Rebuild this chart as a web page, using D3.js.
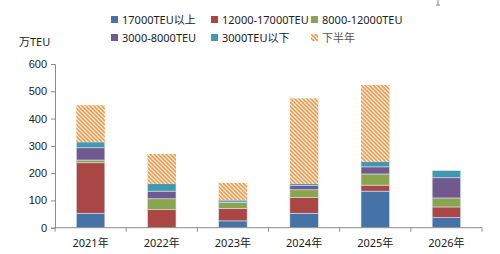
<!DOCTYPE html>
<html>
<head>
<meta charset="utf-8">
<script src="https://cdn.jsdelivr.net/npm/d3@7"></script>
<style>
body{margin:0;background:#fff;}
svg{display:block;font-family:"Noto Sans","Noto Sans CJK SC",sans-serif;}
</style>
</head>
<body>
<div id="chart"></div>
<script>
const categories = ["2021年","2022年","2023年","2024年","2025年","2026年"];
const seriesNames = ["17000TEU以上","12000-17000TEU","8000-12000TEU","3000-8000TEU","3000TEU以下","下半年"];
const s17000plus = [53, 0, 25, 53, 134, 37];
const s12000_17000 = [185, 66, 46, 57, 22, 39];
const s8000_12000 = [10, 40, 21, 29, 41, 33];
const s3000_8000 = [45, 28, 2, 15, 26, 74];
const s3000below = [21, 27, 7, 7, 19, 26];
const secondHalf = [135, 109, 63, 313, 281, 0];
const yTicks = [0,100,200,300,400,500,600];
const colors = ["#4572A7","#AA4643","#89A54E","#71588F","#4198AF","#F79646"];

const W = 500, H = 254;
const margin = {left:55, right:18, top:64, bottom:26};
const svg = d3.select("#chart").append("svg").attr("width",W).attr("height",H);

const defs = svg.append("defs");
const pat = defs.append("pattern").attr("id","hatch").attr("patternUnits","userSpaceOnUse")
  .attr("width",4).attr("height",4);
pat.append("rect").attr("width",4).attr("height",4).attr("fill","#fff");
pat.append("path").attr("d","M-1,-1 L5,5 M-1,3 L1,5 M3,-1 L5,1")
  .attr("stroke",colors[5]).attr("stroke-width",1.6);

const x = d3.scaleBand().domain(categories).range([55,482]).paddingInner(0.6).paddingOuter(0.3);
const y = d3.scaleLinear().domain([0,600]).range([227.7,64]);

const data = categories.map((c,i)=>({cat:c, v:[s17000plus[i],s12000_17000[i],s8000_12000[i],s3000_8000[i],s3000below[i],secondHalf[i]]}));
const keys = [0,1,2,3,4,5];
const stack = d3.stack().keys(keys).value((d,k)=>d.v[k]);
const layers = stack(data);

const g = svg.append("g");
layers.forEach((layer,k)=>{
  g.selectAll(null).data(layer).enter().append("rect")
    .attr("x",d=>x(d.data.cat))
    .attr("width",x.bandwidth())
    .attr("y",d=>y(d[1]))
    .attr("height",d=>Math.max(0,y(d[0])-y(d[1])))
    .attr("fill",k===5?"url(#hatch)":colors[k])
    .attr("stroke",k===5?"none":"#d9e3f0")
    .attr("stroke-width",0.6)
    .style("display",d=>(d[1]-d[0])>0?null:"none");
});

// y axis
const yAxis = svg.append("g").attr("transform","translate(55,0)")
  .call(d3.axisLeft(y).tickValues(yTicks).tickSize(4).tickPadding(4));
yAxis.select(".domain").attr("stroke","#8c8c8c");
yAxis.selectAll(".tick line").attr("stroke","#8c8c8c");
yAxis.selectAll("text").attr("font-size",11).attr("fill","#222");

// x axis
const xAxisG = svg.append("g").attr("transform","translate(0,227.7)");
xAxisG.append("line").attr("x1",55).attr("x2",482).attr("stroke","#8c8c8c");
const step = (482-55)/categories.length;
d3.range(categories.length+1).forEach(i=>{
  xAxisG.append("line").attr("x1",55+i*step).attr("x2",55+i*step).attr("y1",0).attr("y2",4).attr("stroke","#8c8c8c");
});
xAxisG.selectAll("text.cat").data(categories).enter().append("text")
  .attr("x",d=>x(d)+x.bandwidth()/2).attr("y",19)
  .attr("text-anchor","middle").attr("font-size",11).attr("fill","#222").text(d=>d);

// unit label
svg.append("text").attr("x",19).attr("y",46).attr("font-size",11).attr("fill","#222").text("万TEU");

// legend
const legPos = [[111,20],[211,20],[311,20],[111,38],[211,38],[311,38]];
seriesNames.forEach((n,i)=>{
  const lg = svg.append("g").attr("transform",`translate(${legPos[i][0]},${legPos[i][1]})`);
  lg.append("rect").attr("x",0).attr("y",-4).attr("width",7).attr("height",7)
    .attr("fill",i===5?"url(#hatch)":colors[i]);
  lg.append("text").attr("x",11).attr("y",4).attr("font-size",11).attr("fill",i===5?"#555":"#222").text(n);
});

// small marker top right
svg.append("line").attr("x1",438).attr("x2",438).attr("y1",0).attr("y2",5).attr("stroke","#888");
svg.append("line").attr("x1",436).attr("x2",440).attr("y1",5).attr("y2",5).attr("stroke","#888");
</script>
</body>
</html>
